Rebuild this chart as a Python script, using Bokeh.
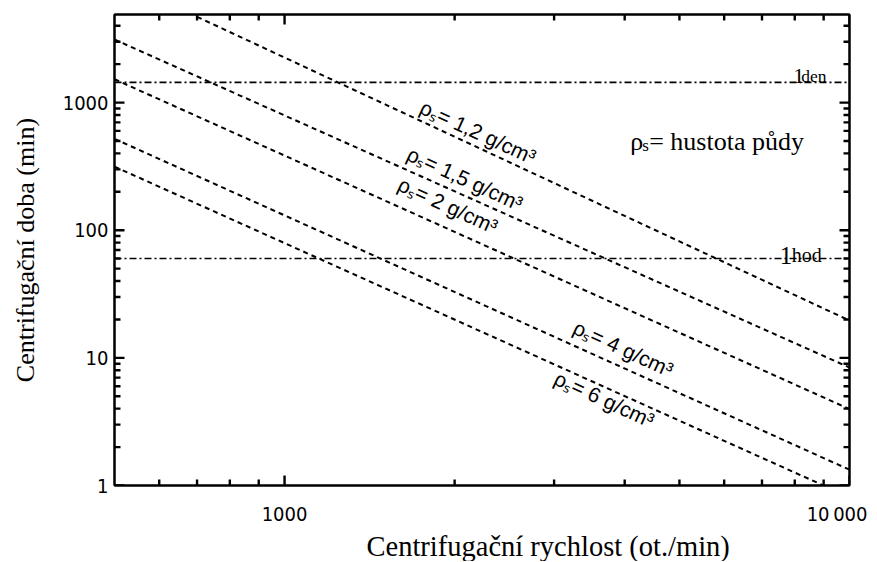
import math
from bokeh.plotting import figure
from bokeh.models import ColumnDataSource, Span, Label, LogAxis, FixedTicker, Title
from bokeh.core.properties import value
from bokeh.embed import file_html
from bokeh.resources import INLINE

# ---- data ----
densities = ["1,2", "1,5", "2", "4", "6"]          # g/cm3
rpm_start = [700, 500, 500, 500, 500]              # ot./min
time_start = [4700, 3120, 1524, 520, 315]          # min
rpm_end = [10000, 10000, 10000, 10000, 10000]
time_end = [19.6, 8.4, 3.97, 1.33, 0.81]

ref_times = [1440, 60]          # 1 den, 1 hod (min)
ref_units = ["den", "hod"]

x_lo, x_hi = 500, 10000
y_lo, y_hi = 1, 4900
x_major = [1000, 10000]
x_minor = [600, 700, 800, 900, 2000, 3000, 4000, 5000, 6000, 7000, 8000, 9000]
y_major = [1, 10, 100, 1000]
y_minor = [2, 3, 4, 5, 6, 7, 8, 9, 20, 30, 40, 50, 60, 70, 80, 90,
           200, 300, 400, 500, 600, 700, 800, 900, 2000, 3000, 4000]
x_tick_labels = {1000: "1000", 10000: "10\u2009000\u2002"}
y_tick_labels = {1: "1", 10: "10", 100: "100", 1000: "1000"}

W, H = 876, 561
B_LEFT, B_RIGHT, B_TOP, B_BOTTOM = 114, 27, 14, 72

p = figure(width=W, height=H, x_axis_type="log", y_axis_type="log",
           x_range=(x_lo, x_hi), y_range=(y_lo, y_hi),
           output_backend="svg", toolbar_location=None,
           min_border_left=B_LEFT, min_border_right=B_RIGHT,
           min_border_top=B_TOP, min_border_bottom=B_BOTTOM)
p.background_fill_color = "white"
p.border_fill_color = "white"
p.outline_line_color = "black"
p.outline_line_width = 2
p.xgrid.grid_line_color = None
p.ygrid.grid_line_color = None

def style_axis(ax):
    ax.axis_line_color = "black"
    ax.axis_line_width = 2
    ax.major_tick_in = 0
    ax.major_tick_out = 0
    ax.minor_tick_in = 0
    ax.minor_tick_out = 0

tick_font = "DejaVu Sans Condensed"
for ax in p.xaxis:
    ax.ticker = FixedTicker(ticks=x_major, minor_ticks=x_minor)
    ax.major_label_overrides = x_tick_labels
    ax.major_label_text_font = tick_font
    ax.major_label_text_font_size = "20px"
    ax.major_label_text_color = "black"
    ax.major_label_standoff = 16
    style_axis(ax)
for ax in p.yaxis:
    ax.ticker = FixedTicker(ticks=y_major, minor_ticks=y_minor)
    ax.major_label_overrides = y_tick_labels
    ax.major_label_text_font = tick_font
    ax.major_label_text_font_size = "20px"
    ax.major_label_text_color = "black"
    ax.major_label_standoff = 6
    ax.axis_label = "Centrifugační doba (min)"
    ax.axis_label_text_font = "Liberation Serif"
    ax.axis_label_text_font_size = "26px"
    ax.axis_label_text_font_style = "normal"
    ax.axis_label_text_color = "black"
    ax.axis_label_standoff = 20
    style_axis(ax)

top = LogAxis(ticker=FixedTicker(ticks=x_major, minor_ticks=x_minor),
              major_label_text_font_size="2px", major_label_text_color=None,
              major_label_standoff=0)
style_axis(top)
p.add_layout(top, "above")
right = LogAxis(ticker=FixedTicker(ticks=y_major, minor_ticks=y_minor),
                major_label_text_font_size="2px", major_label_text_color=None,
                major_label_standoff=0)
style_axis(right)
p.add_layout(right, "right")

# ---- inward tick marks on all four sides (drawn as short segments) ----
frame_w = W - B_LEFT - B_RIGHT
frame_h = H - B_TOP - B_BOTTOM
px_dec_x = frame_w / math.log10(x_hi / x_lo)
px_dec_y = frame_h / math.log10(y_hi / y_lo)
fx = lambda px: 10 ** (px / px_dec_x)
fy = lambda px: 10 ** (px / px_dec_y)
tick_style = dict(line_color="black", line_width=2.4, line_cap="butt")
for ticks, ln in [(x_major, 10), (x_minor, 6)]:
    n = len(ticks)
    p.segment(x0=ticks, y0=[y_lo] * n, x1=ticks, y1=[y_lo * fy(ln)] * n, **tick_style)
    p.segment(x0=ticks, y0=[y_hi] * n, x1=ticks, y1=[y_hi / fy(ln)] * n, **tick_style)
for ticks, ln in [(y_major, 10), (y_minor, 6)]:
    n = len(ticks)
    p.segment(x0=[x_lo] * n, y0=ticks, x1=[x_lo * fx(ln)] * n, y1=ticks, **tick_style)
    p.segment(x0=[x_hi] * n, y0=ticks, x1=[x_hi / fx(ln)] * n, y1=ticks, **tick_style)

# x axis title, placed like the reference (right of centre)
p.add_layout(Title(text="Centrifugační rychlost (ot./min)", align="left", offset=252,
                   text_font="Liberation Serif", text_font_size="28.5px",
                   text_font_style="normal", text_color="black", standoff=0), "below")

# ---- dashed density lines ----
src = ColumnDataSource(dict(x0=rpm_start, y0=time_start, x1=rpm_end, y1=time_end))
p.segment("x0", "y0", "x1", "y1", source=src, line_color="black",
          line_width=2, line_dash="5 4")

# ---- reference lines (1 den, 1 hod) ----
for t in ref_times:
    p.add_layout(Span(location=t, dimension="width", line_color="black",
                      line_width=1.6, line_dash="7 3 2 3"))

# ---- line labels ----
lab_src = ColumnDataSource(dict(
    x=[2200, 2086, 1946, 3978, 3680],
    y=[589, 254, 156.6, 11.86, 4.75],
    text=["ρₛ= %s g/cm³" % d for d in densities]))
p.text(x="x", y="y", text="text", source=lab_src, angle=-0.43,
       text_align="center", text_baseline="middle",
       text_font=value("Liberation Sans"), text_font_size="21px",
       text_color="black")

# ---- 1den / 1hod labels ----
serif = "Liberation Serif"
for (lx, ly, unit, s1, s2, dx) in [(7948, 1608, ref_units[0], "22px", "17.5px", 8),
                                   (7526, 63.9, ref_units[1], "25px", "20px", 12)]:
    p.add_layout(Label(x=lx, y=ly, text="1", text_font=serif, text_font_size=s1,
                       text_baseline="alphabetic", text_align="left", text_color="black"))
    p.add_layout(Label(x=lx, y=ly, x_offset=dx, text=unit, text_font=serif,
                       text_font_size=s2, text_baseline="alphabetic",
                       text_align="left", text_color="black"))

# ---- note ----
p.add_layout(Label(x=4090, y=500, text="ρ", text_font=serif, text_font_size="26px",
                   text_baseline="alphabetic", text_color="black"))
p.add_layout(Label(x=4090, y=458, x_offset=12, text="s", text_font=serif,
                   text_font_size="17px", text_baseline="alphabetic", text_color="black"))
p.add_layout(Label(x=4090, y=500, x_offset=19, text="= hustota půdy", text_font=serif,
                   text_font_size="26px", text_baseline="alphabetic", text_color="black"))

open("out.html", "w").write(file_html(p, INLINE))
